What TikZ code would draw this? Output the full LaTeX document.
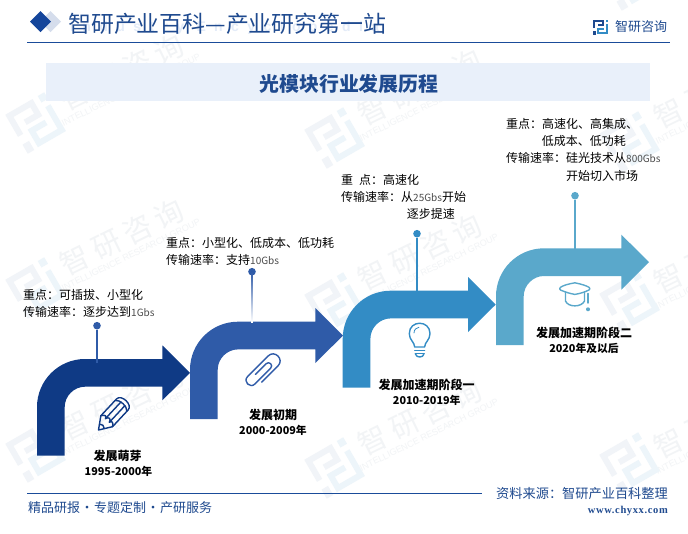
\documentclass[tikz,border=0pt]{standalone}
\usepackage{fontspec}
\usetikzlibrary{calc}
\setmainfont{Noto Sans CJK SC}
\newfontfamily\wmfont[LetterSpace=20]{Noto Sans CJK SC}
\newfontfamily\hdrfont[LetterSpace=60]{Liberation Sans}
\newfontfamily\wmlat{Liberation Sans}
\newfontfamily\webfont[LetterSpace=6]{Liberation Serif}
\definecolor{navy}{HTML}{0F3A85}
\definecolor{midblue}{HTML}{2F5BA8}
\definecolor{skyblue}{HTML}{338CC5}
\definecolor{paleblue}{HTML}{5AA8CB}
\definecolor{brand}{HTML}{1F4A8F}
\definecolor{rulec}{HTML}{1A4C9A}
\definecolor{wmA}{HTML}{F1F4F8}
\definecolor{wmB}{HTML}{EDF5FA}
\definecolor{wmT}{HTML}{F2F4F6}
\definecolor{bandc}{HTML}{E9F0FA}
\definecolor{hdrl}{HTML}{E4ECF8}
\definecolor{diaml}{HTML}{D5DDEC}
\definecolor{diamd}{HTML}{14459B}
\newcommand{\gb}[1]{{\fontsize{10}{12}\selectfont\textcolor{black!70}{#1}}}
\newcommand{\sepdot}{\makebox[14pt]{·}}
\newcommand{\bandarrow}[4]{%
  \fill[#4,shift={(#1,#2)}] (0,#3) -- (0,48) .. controls (0,21.5) and (21.5,0) .. (48,0)
    -- (125.3,0) -- (125.3,-13.7) -- (153,13.85) -- (125.3,41.4) -- (125.3,27.7) -- (48,27.7)
    .. controls (37,27.7) and (27.7,37) .. (27.7,48) -- (27.7,#3) -- cycle;}
\newcommand{\logomark}[6]{% x,y,rot,scale,dark,light
  \begin{scope}[shift={(#1,#2)},rotate=#3,x=#4pt,y=-#4pt,line cap=butt,line join=miter]
    \draw[#5,line width=#4*2pt] (-6.5,1) -- (-6.5,-6.5) -- (2,-6.5) -- (2,-2) -- (-3,-2);
    \fill[#5] (-7.5,4) rectangle (-5,7.5);
    \fill[#6] (5,-7.5) rectangle (7.5,-5);
    \draw[#6,line width=#4*2pt] (6.3,-3) -- (6.3,6.3) -- (-2.5,6.3) -- (-2.5,1.5) -- (3,1.5);
  \end{scope}}
\tikzset{
  note/.style={anchor=west,inner sep=0pt,text=black,font=\fontsize{12}{14}\selectfont},
  stage/.style={anchor=center,inner sep=0pt,text=black,font=\bfseries\fontsize{12}{15}\selectfont},
  years/.style={anchor=center,inner sep=0pt,text=black,font=\bfseries\fontsize{10.8}{14}\selectfont},
  pindot/.style={circle,fill=#1,minimum size=7.6pt,inner sep=0pt},
  pinline/.style={draw=#1,line width=1.6pt},
  icon/.style={draw=#1,line width=1.4pt,line cap=round,line join=round,fill=none},
  wmtext/.style={inner sep=0pt,text=wmT,rotate=26,font=\wmfont\fontsize{29}{30}\selectfont},
  wmsub/.style={inner sep=0pt,text=wmT,rotate=26,font=\wmlat\fontsize{9}{10}\selectfont},
  brandtext/.style={inner sep=0pt,text=brand}
}
\begin{document}
\begin{tikzpicture}[x=1pt,y=-1pt]
\useasboundingbox (0,0) rectangle (688,533);
\fill[white] (0,0) rectangle (688,533);

% watermarks
\foreach \tx/\ty in {122/72,122/237,122/402,420/87,420/252,420/417,716/90,716/255,716/420}{
  \node[wmtext] (wm\tx\ty) at (\tx,\ty) {智研咨询};
  \node[wmsub] (ws\tx\ty) at (\tx+9,\ty+18) {INTELLIGENCE RESEARCH GROUP};
}
\foreach \lx/\ly in {36/123,36/288,36/452,335/138,335/303,335/468,630/-20,630/142,630/302,630/463}{
  \logomark{\lx}{\ly}{30}{3}{wmA}{wmB}
}

% header
\node[inner sep=0pt,anchor=west,text=hdrl,font=\hdrfont\bfseries\fontsize{14}{16}\selectfont] (hdrlatin) at (70,28) {Industry Encyclopedia};
\fill[diaml] (50.5,11) -- (61,21.5) -- (50.5,32) -- (40,21.5) -- cycle;
\fill[diamd] (40.5,11) -- (51,21.5) -- (40.5,32) -- (30,21.5) -- cycle;
\node[brandtext,anchor=west,font=\fontsize{22.9}{24}\selectfont] (hdr) at (68,24) {智研产业百科—产业研究第一站};
\draw[rulec,line width=1.2pt] (27,42.3) -- (669.7,42.3);
\logomark{600.5}{27}{0}{1}{brand}{skyblue}
\node[brandtext,anchor=west,font=\fontsize{13}{15}\selectfont] (corp) at (615,26.5) {智研咨询};

% title band
\fill[bandc] (46,63) rectangle (649.7,101);
\node[brandtext,anchor=center,font=\bfseries\fontsize{19.9}{22}\selectfont] (title) at (349,83.5) {光模块行业发展历程};

% arrows
\bandarrow{37}{359}{96.7}{navy}
\bandarrow{190}{321.7}{97.3}{midblue}
\bandarrow{342.7}{290.7}{97}{skyblue}
\bandarrow{496}{248.3}{96.7}{paleblue}

% pins
\node[pindot=midblue] (pin1) at (97,325.7) {};
\coordinate (foot1) at (97,363);
\draw[pinline=midblue] (pin1) -- (foot1);
\node[pindot=midblue] (pin2) at (252,271.7) {};
\coordinate (foot2) at (252,322);
\shade[top color=midblue,bottom color=white] ($(pin2)+(-0.8,0)$) rectangle ($(foot2)+(0.8,0)$);
\node[pindot=skyblue] (pin3) at (417,233.7) {};
\coordinate (foot3) at (417,293);
\draw[pinline=skyblue] (pin3) -- (foot3);
\node[pindot=paleblue] (pin4) at (575,195.7) {};
\coordinate (foot4) at (575,250);
\draw[pinline=paleblue] (pin4) -- (foot4);

% notes
\node[note] (n1a) at (23,295.3) {重点：可插拔、小型化};
\node[note] (n1b) at (23,312.3) {传输速率：逐步达到\gb{1Gbs}};
\node[note] (n2a) at (166,243) {重点：小型化、低成本、低功耗};
\node[note] (n2b) at (166,260) {传输速率：支持\gb{10Gbs}};
\node[note] (n3a) at (341,180) {重\,\,\,点：高速化};
\node[note] (n3b) at (341,197) {传输速率：从\gb{25Gbs}开始};
\node[note] (n3c) at (406.7,214) {逐步提速};
\node[note] (n4a) at (506,124) {重点：高速化、高集成、};
\node[note] (n4b) at (541.7,141) {低成本、低功耗};
\node[note] (n4c) at (506,158) {传输速率：硅光技术从\gb{800Gbs}};
\node[note] (n4d) at (566,175.7) {开始切入市场};

% stage labels
\node[stage] (s1) at (117.5,456) {发展萌芽};
\node[years] (y1) at (118.5,471) {1995-2000年};
\node[stage] (s2) at (273,415) {发展初期};
\node[years] (y2) at (273,430) {2000-2009年};
\node[stage] (s3) at (426.7,385) {发展加速期阶段一};
\node[years] (y3) at (426.7,400) {2010-2019年};
\node[stage] (s4) at (584,333) {发展加速期阶段二};
\node[years] (y4) at (584,348) {2020年及以后};

% pencil
\begin{scope}[shift={(98.5,430)},rotate=47]
  \draw[icon=navy] (0,0) -- (12,-8) -- (35,-8) .. controls (42,-8) and (42,8) .. (35,8) -- (12,8) -- cycle;
  \draw[icon=navy] (12,-8) .. controls (16,-6) and (16,-3) .. (13,-2.7) .. controls (17,-2) and (17,2) .. (13,2.7) .. controls (16,3) and (16,6) .. (12,8);
  \draw[icon=navy] (14,-2.7) -- (36,-2.7) (14,2.7) -- (36,2.7);
  \draw[icon=navy] (33,-8) .. controls (37,-5) and (37,5) .. (33,8);
  \draw[icon=navy] (5,-3.2) .. controls (7,-1.5) and (7,1.5) .. (5,3.2);
\end{scope}

% paper clip
\begin{scope}[shift={(249,385)},rotate=45]
  \draw[icon=midblue] (11,7) -- (34,7) .. controls (43.3,7) and (43.3,-7) .. (34,-7)
    -- (5,-7) .. controls (-2,-7) and (-2,3.5) .. (5,3.5)
    -- (27,3.5) .. controls (31.5,3.5) and (31.5,-3) .. (27,-3) -- (12,-3);
\end{scope}

% bulb
\draw[icon=skyblue] (414.7,347) .. controls (414.5,342) and (409.3,340) .. (409.3,333.6)
  .. controls (409.3,319.8) and (430,319.8) .. (430,333.6)
  .. controls (430,340) and (424.8,342) .. (424.6,347) -- cycle;
\draw[icon=skyblue] (414.8,350.3) -- (424.6,350.3) (415.2,353.5) -- (424.2,353.5);
\draw[icon=skyblue] (415.5,354) .. controls (416,358) and (423.4,358) .. (423.9,354);
\draw[icon=skyblue,line width=0.8pt] (414,333) .. controls (414,329.5) and (416.5,327.5) .. (419,327.3);

% cap
\draw[icon=paleblue] (574.8,282.8) .. controls (568,284) and (563,285.5) .. (560.5,287.3)
  .. controls (559.3,288.3) and (559.3,289.3) .. (560.5,290)
  .. controls (565,292) and (570,293.6) .. (574.8,294.4)
  .. controls (580,293.6) and (585,292) .. (589,290)
  .. controls (590.2,289.3) and (590.2,288.3) .. (589,287.3)
  .. controls (586,285.5) and (581,284) .. (574.8,282.8) -- cycle;
\draw[icon=paleblue] (565.5,292) -- (565.5,301) .. controls (568,307.5) and (581.5,307.5) .. (584.5,301) -- (584.5,292);
\draw[icon=paleblue] (588,293.5) -- (588,303);
\fill[paleblue] (588,309.3) circle (2);

% footer
\draw[rulec,line width=1.2pt] (27,493.3) -- (481.7,493.3);
\node[brandtext,anchor=west,font=\fontsize{13}{15}\selectfont] (slogan) at (28,508) {精品研报\sepdot 专题定制\sepdot 产研服务};
\node[brandtext,anchor=east,font=\fontsize{13.2}{15}\selectfont] (src) at (668,494) {资料来源：智研产业百科整理};
\node[brandtext,anchor=east,font=\webfont\bfseries\fontsize{10.5}{12}\selectfont] (web) at (668,510.7) {www.chyxx.com};
\end{tikzpicture}
\end{document}
